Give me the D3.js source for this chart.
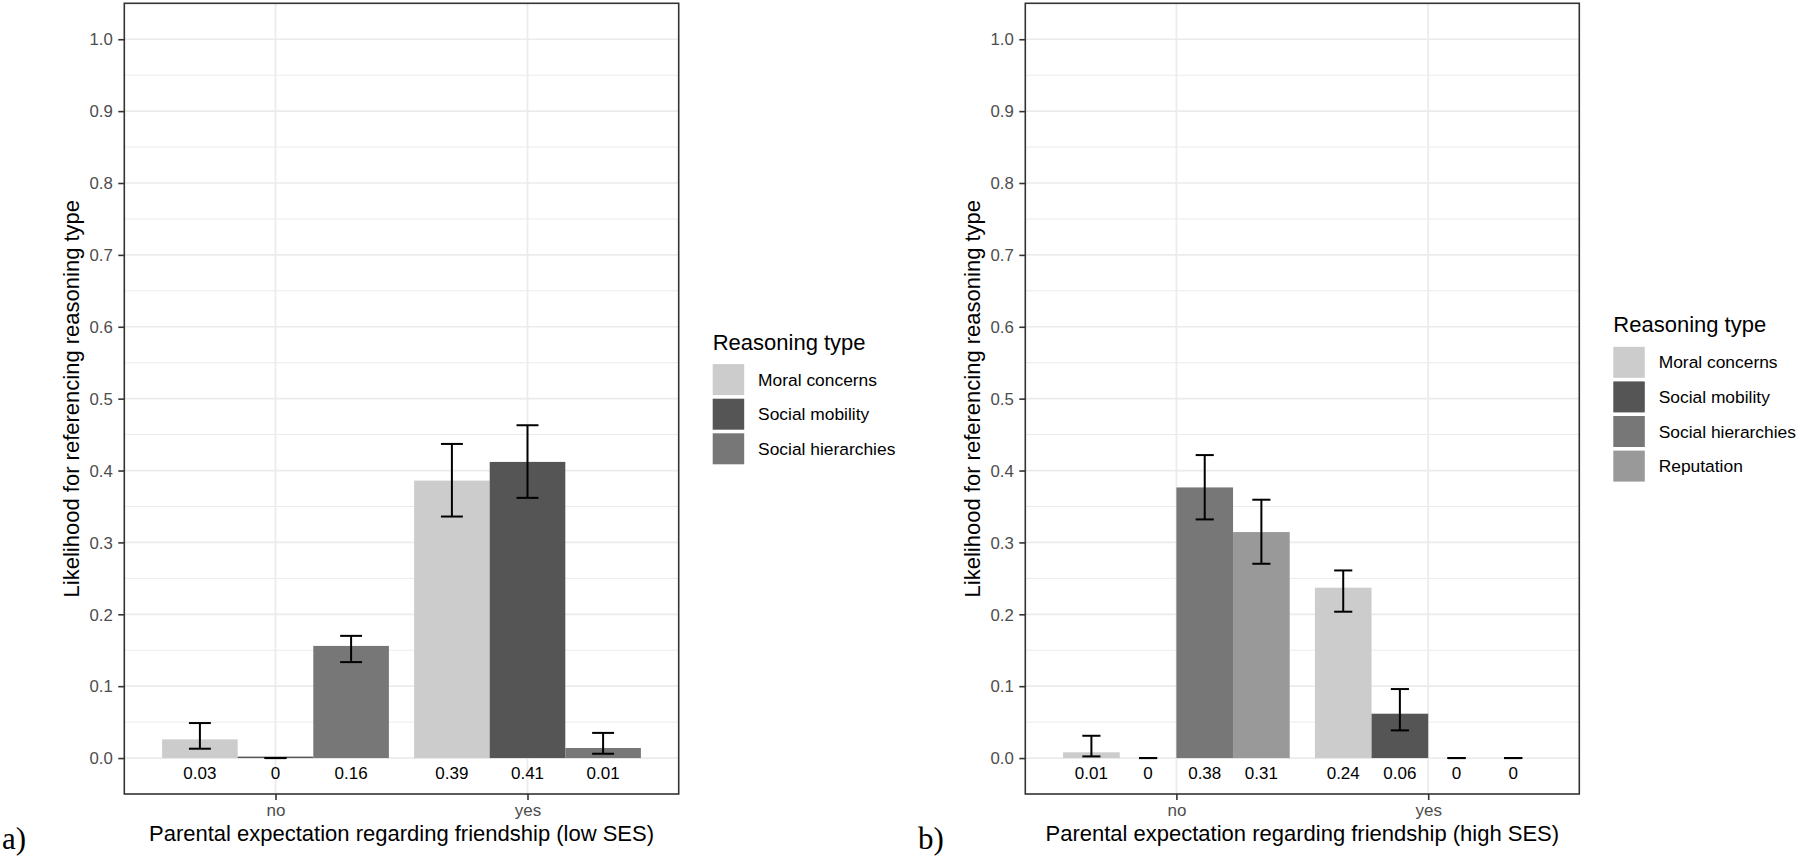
<!DOCTYPE html>
<html><head><meta charset="utf-8">
<script src="https://cdn.jsdelivr.net/npm/d3@7/dist/d3.min.js"></script>
<style>body{margin:0;background:#fff;} svg{display:block;}</style>
</head><body><svg id="chart" width="1800" height="865"></svg>
<script>
// ---------------- data ----------------
const categories = ["no", "yes"];
const reasonsLow = ["Moral concerns", "Social mobility", "Social hierarchies"];
const reasonsHigh = ["Moral concerns", "Social mobility", "Social hierarchies", "Reputation"];
const reasonColors = ["#cccccc", "#555555", "#777777", "#999999"];

// panel a) low SES
const lowNoMean   = [0.026, 0.002, 0.156];
const lowNoLower  = [0.013, 0.000, 0.1335];
const lowNoUpper  = [0.0487, 0.000, 0.170];
const lowNoLabels = ["0.03", "0", "0.16"];
const lowYesMean   = [0.386, 0.412, 0.014];
const lowYesLower  = [0.336, 0.362, 0.006];
const lowYesUpper  = [0.437, 0.463, 0.035];
const lowYesLabels = ["0.39", "0.41", "0.01"];

// panel b) high SES
const highNoMean   = [0.008, 0.000, 0.3765, 0.3144];
const highNoLower  = [0.0023, 0.000, 0.332, 0.2703];
const highNoUpper  = [0.031, 0.000, 0.4215, 0.3594];
const highNoLabels = ["0.01", "0", "0.38", "0.31"];
const highYesMean   = [0.237, 0.0617, 0.000, 0.000];
const highYesLower  = [0.2036, 0.0385, 0.000, 0.000];
const highYesUpper  = [0.261, 0.096, 0.000, 0.000];
const highYesLabels = ["0.24", "0.06", "0", "0"];

const yTickValues = [0, 0.1, 0.2, 0.3, 0.4, 0.5, 0.6, 0.7, 0.8, 0.9, 1.0];
const yMinorValues = [0.05, 0.15, 0.25, 0.35, 0.45, 0.55, 0.65, 0.75, 0.85, 0.95];
const yTitle = "Likelihood for referencing reasoning type";
const legendTitle = "Reasoning type";

function buildRows(reasons, groups) {
  const rows = [];
  groups.forEach(gr => {
    reasons.forEach((r, i) => {
      rows.push({cat: gr.cat, reason: r, idx: i, mean: gr.mean[i], lo: gr.lo[i], hi: gr.hi[i], label: gr.labels[i]});
    });
  });
  return rows;
}

const panels = [
  {
    left: 124.3, right: 678.7, tag: "a)", tagX: 2,
    xTitle: "Parental expectation regarding friendship (low SES)",
    reasons: reasonsLow, capFrac: 0.29,
    rows: buildRows(reasonsLow, [
      {cat: "no", mean: lowNoMean, lo: lowNoLower, hi: lowNoUpper, labels: lowNoLabels},
      {cat: "yes", mean: lowYesMean, lo: lowYesLower, hi: lowYesUpper, labels: lowYesLabels}
    ])
  },
  {
    left: 1025.3, right: 1579.3, tag: "b)", tagX: 918,
    xTitle: "Parental expectation regarding friendship (high SES)",
    reasons: reasonsHigh, capFrac: 0.32,
    rows: buildRows(reasonsHigh, [
      {cat: "no", mean: highNoMean, lo: highNoLower, hi: highNoUpper, labels: highNoLabels},
      {cat: "yes", mean: highYesMean, lo: highYesLower, hi: highYesUpper, labels: highYesLabels}
    ])
  }
];

// ---------------- drawing ----------------
const svg = d3.select("#chart");
const TOP = 3.3, BOTTOM = 794;
const sans = "'Liberation Sans', Arial, Helvetica, sans-serif";

const y = d3.scaleLinear().domain([-0.05, 1.05]).range([BOTTOM, TOP]);

panels.forEach(p => {
  const g = svg.append("g");
  const x0 = d3.scalePoint().domain(categories).range([p.left, p.right]).padding(0.6);
  const step = x0.step();
  const x1 = d3.scaleBand().domain(p.reasons).range([-0.45 * step, 0.45 * step]).padding(0);
  const bw = x1.bandwidth();

  // grid
  g.append("g").selectAll("line.minor").data(yMinorValues).join("line")
    .attr("x1", p.left).attr("x2", p.right)
    .attr("y1", d => y(d)).attr("y2", d => y(d))
    .attr("stroke", "#ebebeb").attr("stroke-width", 1.0);
  g.append("g").selectAll("line.major").data(yTickValues).join("line")
    .attr("x1", p.left).attr("x2", p.right)
    .attr("y1", d => y(d)).attr("y2", d => y(d))
    .attr("stroke", "#ebebeb").attr("stroke-width", 1.7);
  g.append("g").selectAll("line.vmajor").data(categories).join("line")
    .attr("x1", d => x0(d)).attr("x2", d => x0(d))
    .attr("y1", TOP).attr("y2", BOTTOM)
    .attr("stroke", "#ebebeb").attr("stroke-width", 1.7);

  // bars
  g.append("g").selectAll("rect").data(p.rows).join("rect")
    .attr("x", d => x0(d.cat) + x1(d.reason))
    .attr("width", bw)
    .attr("y", d => y(d.mean))
    .attr("height", d => y(0) - y(d.mean))
    .attr("fill", d => reasonColors[d.idx]);

  // error bars
  const eb = g.append("g").attr("stroke", "#000").attr("stroke-width", 2).attr("fill", "none");
  const cap = bw * p.capFrac;
  p.rows.forEach(d => {
    const cx = x0(d.cat) + x1(d.reason) + bw / 2;
    eb.append("line").attr("x1", cx).attr("x2", cx).attr("y1", y(d.lo)).attr("y2", y(d.hi));
    eb.append("line").attr("x1", cx - cap / 2).attr("x2", cx + cap / 2).attr("y1", y(d.lo)).attr("y2", y(d.lo));
    eb.append("line").attr("x1", cx - cap / 2).attr("x2", cx + cap / 2).attr("y1", y(d.hi)).attr("y2", y(d.hi));
  });

  // value labels
  g.append("g").selectAll("text").data(p.rows).join("text")
    .attr("x", d => x0(d.cat) + x1(d.reason) + bw / 2)
    .attr("y", y(-0.02))
    .attr("dy", "0.36em")
    .attr("text-anchor", "middle")
    .attr("font-family", sans).attr("font-size", 17)
    .attr("fill", "#000")
    .text(d => d.label);

  // panel border
  g.append("rect").attr("x", p.left).attr("y", TOP)
    .attr("width", p.right - p.left).attr("height", BOTTOM - TOP)
    .attr("fill", "none").attr("stroke", "#333333").attr("stroke-width", 1.6);

  // y axis
  const yAxis = g.append("g").attr("transform", `translate(${p.left},0)`)
    .call(d3.axisLeft(y).tickValues(yTickValues).tickFormat(d3.format(".1f")).tickSize(6).tickPadding(5.5));
  yAxis.select(".domain").remove();
  yAxis.selectAll(".tick line").attr("stroke", "#333333").attr("stroke-width", 1.6);
  yAxis.selectAll(".tick text").attr("fill", "#4d4d4d").attr("font-family", sans).attr("font-size", 16.8).attr("dy", "0.34em");

  // x axis
  const xAxis = g.append("g").attr("transform", `translate(0,${BOTTOM})`)
    .call(d3.axisBottom(x0).tickSize(6).tickPadding(4));
  xAxis.select(".domain").remove();
  xAxis.selectAll(".tick line").attr("stroke", "#333333").attr("stroke-width", 1.6);
  xAxis.selectAll(".tick text").attr("fill", "#4d4d4d").attr("font-family", sans).attr("font-size", 17);

  // titles
  g.append("text")
    .attr("transform", `translate(${p.left - 45.5},${(TOP + BOTTOM) / 2}) rotate(-90)`)
    .attr("text-anchor", "middle")
    .attr("font-family", sans).attr("font-size", 22).attr("fill", "#000")
    .text(yTitle);
  g.append("text")
    .attr("x", (p.left + p.right) / 2).attr("y", 841)
    .attr("text-anchor", "middle")
    .attr("font-family", sans).attr("font-size", 22).attr("fill", "#000")
    .text(p.xTitle);

  // panel tag
  g.append("text").attr("x", p.tagX).attr("y", 849)
    .attr("font-family", "'Liberation Serif', 'Times New Roman', serif").attr("font-size", 31).attr("fill", "#000")
    .text(p.tag);

  // legend
  const pitch = 34.6;
  const lx = p.right + 34;
  const keysTop = 416 - p.reasons.length * pitch / 2;
  const lg = g.append("g");
  lg.append("text").attr("x", lx).attr("y", keysTop - 14.5)
    .attr("font-family", sans).attr("font-size", 22).attr("fill", "#000")
    .text(legendTitle);
  lg.selectAll("rect").data(p.reasons).join("rect")
    .attr("x", lx).attr("y", (d, i) => keysTop + i * pitch)
    .attr("width", 31.5).attr("height", 31)
    .attr("fill", (d, i) => reasonColors[i]);
  lg.selectAll("text.lab").data(p.reasons).join("text").attr("class", "lab")
    .attr("x", lx + 45.4).attr("y", (d, i) => keysTop + i * pitch + 15.5)
    .attr("dy", "0.35em")
    .attr("font-family", sans).attr("font-size", 17.4).attr("fill", "#000")
    .text(d => d);
});
</script></body></html>
